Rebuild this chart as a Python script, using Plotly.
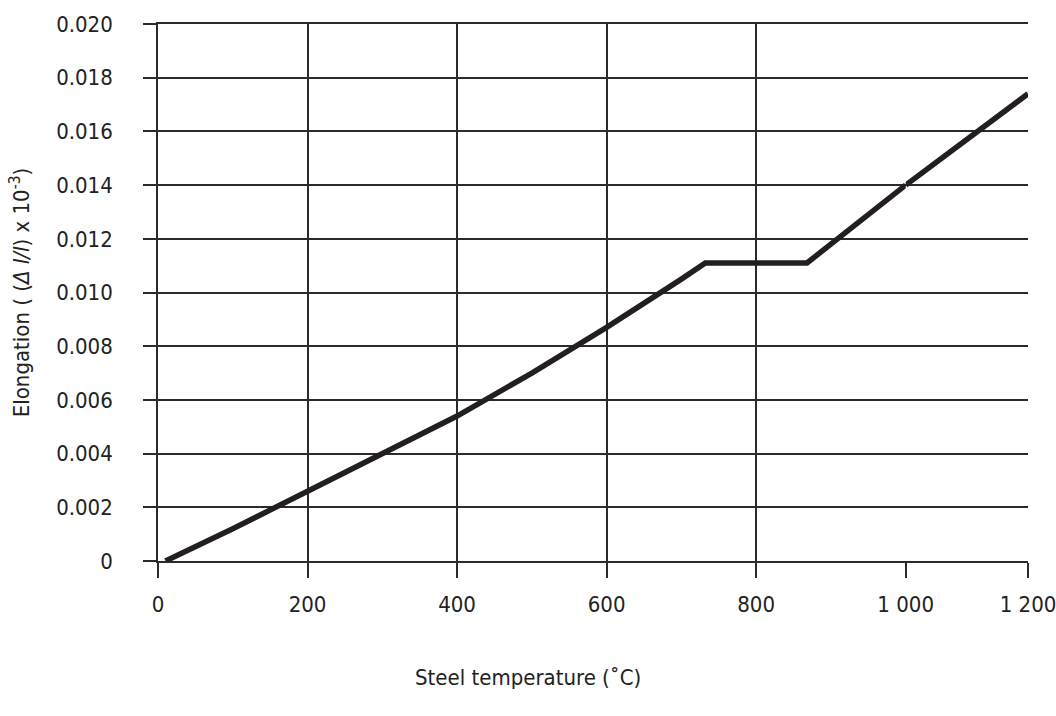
import plotly.graph_objects as go

# Data
temperature = [10, 100, 200, 300, 400, 500, 600, 700, 732, 868, 1000, 1200]
elongation = [0.0, 0.0012, 0.0026, 0.0040, 0.0054, 0.0070, 0.0087, 0.0105, 0.0111, 0.0111, 0.0140, 0.0174]

x_ticks_main = [0, 200, 400, 600, 800, 1000]
x_ticktext_main = ["0", "200", "400", "600", "800", "1 000"]
x_ticks_tail = [1200]
x_ticktext_tail = ["1 200"]
y_ticks = [0, 0.002, 0.004, 0.006, 0.008, 0.010, 0.012, 0.014, 0.016, 0.018, 0.020]
y_ticktext = ["0", "0.002", "0.004", "0.006", "0.008", "0.010", "0.012", "0.014", "0.016", "0.018", "0.020"]

FONT = "DejaVu Sans Condensed, DejaVu Sans, sans-serif"
GRID = "#2b2b2b"
LINE = "#231f20"
TXT = "#222"
FS = 22

split = 1000
main_x = [t for t in temperature if t <= split]
main_y = [e for t, e in zip(temperature, elongation) if t <= split]
tail_x = [t for t in temperature if t >= split]
tail_y = [e for t, e in zip(temperature, elongation) if t >= split]

fig = go.Figure()
fig.add_trace(go.Scatter(x=main_x, y=main_y, mode="lines", xaxis="x", yaxis="y",
                         line=dict(color=LINE, width=5.5), showlegend=False,
                         hoverinfo="skip"))
fig.add_trace(go.Scatter(x=tail_x, y=tail_y, mode="lines", xaxis="x2", yaxis="y",
                         line=dict(color=LINE, width=5.5), showlegend=False,
                         hoverinfo="skip"))

dom_split = 747.7 / 870.0
common_x = dict(showgrid=True, gridcolor=GRID, gridwidth=1.6, zeroline=False,
                showline=True, linecolor=GRID, linewidth=1.6, mirror=True,
                ticks="outside", ticklen=15, tickwidth=1.6, tickcolor=GRID,
                tickfont=dict(family=FONT, size=FS, color=TXT), anchor="y",
                ticklabelstandoff=8, automargin=False, ticklabeloverflow="allow")

fig.update_layout(
    width=1056, height=716,
    margin=dict(l=158, r=28, t=24, b=155),
    paper_bgcolor="white", plot_bgcolor="white",
    font=dict(family=FONT, color=TXT),
    xaxis=dict(domain=[0, dom_split], range=[0, 1000], tickmode="array",
               tickvals=x_ticks_main, ticktext=x_ticktext_main, **common_x),
    xaxis2=dict(domain=[dom_split, 1], range=[1000, 1200], tickmode="array",
                tickvals=x_ticks_tail, ticktext=x_ticktext_tail, **common_x),
    yaxis=dict(domain=[0, 1], range=[0, 0.020], tickmode="array",
               tickvals=y_ticks, ticktext=y_ticktext,
               showgrid=True, gridcolor=GRID, gridwidth=1.6, zeroline=False,
               showline=True, linecolor=GRID, linewidth=1.6,
               ticks="outside", ticklen=13, tickwidth=1.6, tickcolor=GRID,
               ticklabelstandoff=26, automargin=False,
               tickfont=dict(family=FONT, size=FS, color=TXT),
               title=dict(text="Elongation ( (<i>Δ l/l</i>) x 10<sup>-3</sup>)",
                          font=dict(family=FONT, size=FS, color=TXT),
                          standoff=20),
               anchor="x"),
    annotations=[dict(text="Steel temperature (˚C)", xref="paper", yref="paper",
                      x=(528 - 158) / 870.0, y=-0.217, xanchor="center", yanchor="middle",
                      showarrow=False, font=dict(family=FONT, size=FS, color=TXT))],
)

fig.write_html("out.html", config={"displayModeBar": False},
               post_script="document.body.style.margin='0';document.body.style.overflow='hidden';")
